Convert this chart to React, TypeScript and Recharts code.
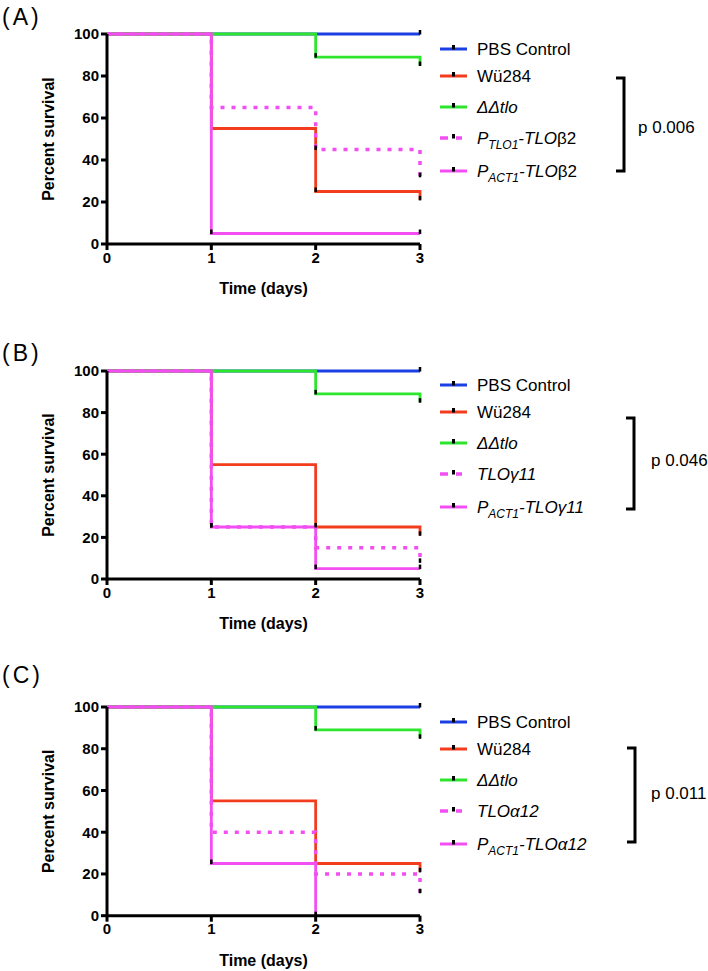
import React from 'react';
import { LineChart, Line, XAxis, YAxis } from 'recharts';

const FONT = '"Liberation Sans", Arial, Helvetica, sans-serif';

const days = [0, 1, 2, 3];
const xTicks = [0, 1, 2, 3];
const yTicks = [0, 20, 40, 60, 80, 100];

const seriesColors = ['#1C3FE3', '#F23C1D', '#2CE52C', '#F24EF2', '#F24EF2'];
const seriesDotted = [false, false, false, true, false];

// Panel A
const pbsA = [100, 100, 100, 100];
const wuA = [100, 55, 25, 21];
const ddtloA = [100, 100, 89, 85];
const ptloA = [100, 65, 45, 32];
const pactA = [100, 5, 5, 5];
const pValueA = 'p 0.006';

// Panel B
const pbsB = [100, 100, 100, 100];
const wuB = [100, 55, 25, 21];
const ddtloB = [100, 100, 89, 85];
const tloB = [100, 25, 15, 8];
const pactB = [100, 25, 5, 5];
const pValueB = 'p 0.046';

// Panel C
const pbsC = [100, 100, 100, 100];
const wuC = [100, 55, 25, 21];
const ddtloC = [100, 100, 89, 85];
const tloC = [100, 40, 20, 11];
const pactC = [100, 25, 0];
const pValueC = 'p 0.011';

type Seg = [string, 'n' | 'i' | 's'];

const labelsA: Seg[][] = [
  [['PBS Control', 'n']],
  [['Wü284', 'n']],
  [['ΔΔtlo', 'i']],
  [['P', 'i'], ['TLO1', 's'], ['-TLO', 'i'], ['β2', 'n']],
  [['P', 'i'], ['ACT1', 's'], ['-TLO', 'i'], ['β2', 'n']],
];
const labelsB: Seg[][] = [
  [['PBS Control', 'n']],
  [['Wü284', 'n']],
  [['ΔΔtlo', 'i']],
  [['TLOγ11', 'i']],
  [['P', 'i'], ['ACT1', 's'], ['-TLOγ11', 'i']],
];
const labelsC: Seg[][] = [
  [['PBS Control', 'n']],
  [['Wü284', 'n']],
  [['ΔΔtlo', 'i']],
  [['TLOα12', 'i']],
  [['P', 'i'], ['ACT1', 's'], ['-TLOα12', 'i']],
];

const toPoints = (vals: number[]) => vals.map((v, i) => ({ day: days[i], v }));

// A marker is hidden when a series drawn later has a vertical step at the same day passing over it
const covered = (all: number[][], si: number, k: number) => {
  const v = all[si][k];
  for (let j = si + 1; j < all.length; j++) {
    const w = all[j];
    if (k < 1 || k >= w.length) continue;
    const hi = Math.max(w[k - 1], w[k]);
    const lo = Math.min(w[k - 1], w[k]);
    if (hi !== lo && v < hi && v >= lo && v !== w[k]) return true;
  }
  return false;
};

const makeDot = (all: number[][], si: number, id: string) => (props: any) => {
  const vals = all[si];
  const { cx, cy, index } = props;
  const show =
    (index === vals.length - 1 || (index > 0 && vals[index] !== vals[index - 1])) && !covered(all, si, index);
  if (!show || cx == null || cy == null) return <g key={`${id}-${index}`} />;
  return <rect key={`${id}-${index}`} x={cx - 1.25} y={cy - 4} width={2.5} height={4.5} fill="#000" />;
};

interface PanelProps {
  id: string;
  plotTop: number;
  plotH: number;
  series: number[][];
}

function Panel({ id, plotTop, plotH, series }: PanelProps) {
  const mTop = 20;
  const xH = 60;
  return (
    <div style={{ position: 'absolute', left: 0, top: plotTop - mTop }}>
      <LineChart width={708} height={mTop + plotH + xH} margin={{ top: mTop, right: 288, bottom: 0, left: 0 }}>
        <XAxis
          dataKey="day"
          type="number"
          domain={[0, 3]}
          ticks={xTicks}
          interval={0}
          height={xH}
          tickSize={6}
          tickMargin={2}
          axisLine={{ stroke: '#000', strokeWidth: 3 }}
          tickLine={{ stroke: '#000', strokeWidth: 3 }}
          tick={{ fill: '#000', fontSize: 15, fontWeight: 700, fontFamily: FONT }}
          label={{ value: 'Time (days)', position: 'insideBottom', offset: 10, fill: '#000', fontSize: 16, fontWeight: 700, fontFamily: FONT }}
        />
        <YAxis
          type="number"
          domain={[0, 100]}
          ticks={yTicks}
          interval={0}
          width={107}
          tickSize={6}
          tickMargin={2}
          axisLine={{ stroke: '#000', strokeWidth: 3 }}
          tickLine={{ stroke: '#000', strokeWidth: 3 }}
          tick={{ fill: '#000', fontSize: 15, fontWeight: 700, fontFamily: FONT }}
          label={{ value: 'Percent survival', angle: -90, position: 'insideLeft', offset: 48, fill: '#000', fontSize: 16, fontWeight: 700, fontFamily: FONT, style: { textAnchor: 'middle' } }}
        />
        {series.map((vals, i) => (
          <Line
            key={`${id}-${i}`}
            data={toPoints(vals)}
            dataKey="v"
            type="stepAfter"
            stroke={seriesColors[i]}
            strokeWidth={seriesDotted[i] ? 3.5 : 2.8}
            strokeDasharray={seriesDotted[i] ? '4 7' : undefined}
            dot={makeDot(series, i, `${id}-${i}`)}
            activeDot={false}
            isAnimationActive={false}
          />
        ))}
      </LineChart>
    </div>
  );
}

const rowOffsets = [0, 27, 58, 89, 122];

function LegendLabel({ x, y, segs }: { x: number; y: number; segs: Seg[] }) {
  const out: React.ReactNode[] = [];
  let shifted = false;
  segs.forEach(([t, s], k) => {
    let dy = 0;
    if (s === 's' && !shifted) { dy = 5; shifted = true; }
    else if (s !== 's' && shifted) { dy = -5; shifted = false; }
    out.push(
      <tspan key={k} dy={dy} fontSize={s === 's' ? 12 : 17} fontStyle={s === 'n' ? 'normal' : 'italic'}>
        {t}
      </tspan>
    );
  });
  return (
    <text x={x} y={y} fontFamily={FONT} fontSize={17} fill="#000">
      {out}
    </text>
  );
}

function LegendBlock({ top, labels }: { top: number; labels: Seg[][] }) {
  return (
    <g>
      {labels.map((segs, i) => {
        const y = top + rowOffsets[i];
        const c = seriesColors[i];
        return (
          <g key={i}>
            {seriesDotted[i] ? (
              <g>
                <line x1={440} y1={y} x2={448} y2={y} stroke={c} strokeWidth={3.5} />
                <line x1={456} y1={y} x2={462} y2={y} stroke={c} strokeWidth={3.5} />
              </g>
            ) : (
              <line x1={440} y1={y} x2={467} y2={y} stroke={c} strokeWidth={3} />
            )}
            <rect x={452} y={y - 4} width={3} height={4.5} fill="#000" />
            <LegendLabel x={477} y={y + 6} segs={segs} />
          </g>
        );
      })}
    </g>
  );
}

function Bracket({ x, y1, y2, px, py, text }: { x: number; y1: number; y2: number; px: number; py: number; text: string }) {
  return (
    <g>
      <polyline points={`${x - 8},${y1} ${x},${y1} ${x},${y2} ${x - 8},${y2}`} fill="none" stroke="#000" strokeWidth={3} />
      <text x={px} y={py} fontFamily={FONT} fontSize={17} fill="#000">{text}</text>
    </g>
  );
}

export default function App() {
  return (
    <div style={{ position: 'absolute', left: 0, top: 0, width: 708, height: 971, background: '#fff', overflow: 'hidden' }}>
      <Panel id="A" plotTop={34} plotH={210} series={[pbsA, wuA, ddtloA, ptloA, pactA]} />
      <Panel id="B" plotTop={371.3} plotH={208} series={[pbsB, wuB, ddtloB, tloB, pactB]} />
      <Panel id="C" plotTop={707.3} plotH={208.7} series={[pbsC, wuC, ddtloC, tloC, pactC]} />
      <svg width={708} height={971} style={{ position: 'absolute', left: 0, top: 0, pointerEvents: 'none' }}>
        <text x={2} y={25} fontFamily={FONT} fontSize={23} letterSpacing={3} fill="#000">(A)</text>
        <text x={2} y={361} fontFamily={FONT} fontSize={23} letterSpacing={3} fill="#000">(B)</text>
        <text x={2} y={683} fontFamily={FONT} fontSize={23} letterSpacing={3} fill="#000">(C)</text>
        <LegendBlock top={49} labels={labelsA} />
        <LegendBlock top={385} labels={labelsB} />
        <LegendBlock top={722} labels={labelsC} />
        <Bracket x={624} y1={78} y2={171} px={638} py={133} text={pValueA} />
        <Bracket x={634} y1={418} y2={509} px={651} py={466} text={pValueB} />
        <Bracket x={635} y1={748} y2={842} px={651} py={799} text={pValueC} />
      </svg>
    </div>
  );
}
